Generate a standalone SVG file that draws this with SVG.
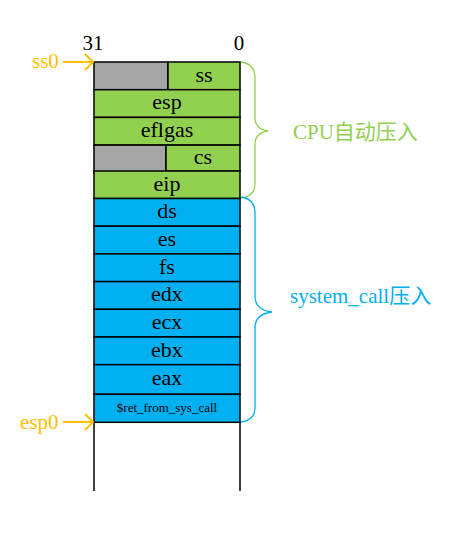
<svg xmlns="http://www.w3.org/2000/svg" width="452" height="536" viewBox="0 0 452 536">
<style>
.t{font-family:"Liberation Serif","Noto Sans CJK SC",serif;font-size:22px;fill:#000;text-anchor:middle}
.g{fill:#92D050;stroke:#000;stroke-width:1.5}
.b{fill:#00B0F0;stroke:#000;stroke-width:1.5}
.gr{fill:#A6A6A6;stroke:#000;stroke-width:1.5}
.ptr{fill:none;stroke:#FFC000;stroke-width:2}
.lbl{font-family:"Liberation Serif","Noto Sans CJK SC",serif;font-size:21px}
</style>
<rect width="452" height="536" fill="#fff"/>
<g id="axis">
<text class="t" x="93" y="50" style="font-size:21px">31</text>
<text class="t" x="239" y="50" style="font-size:21px">0</text>
<line x1="94" y1="422" x2="94" y2="491" stroke="#000" stroke-width="1.5"/>
<line x1="240" y1="422" x2="240" y2="491" stroke="#000" stroke-width="1.5"/>
</g>
<g id="row-ss"><rect class="gr" x="94" y="62" width="74" height="27.7"/><rect class="g" x="168" y="62" width="72" height="27.7"/><text class="t" x="204" y="82">ss</text></g>
<g id="row-esp"><rect class="g" x="94" y="89.7" width="146" height="27.7"/><text class="t" x="167" y="109">esp</text></g>
<g id="row-eflgas"><rect class="g" x="94" y="117.4" width="146" height="27.7"/><text class="t" x="167" y="137">eflgas</text></g>
<g id="row-cs"><rect class="gr" x="94" y="145.1" width="72" height="27.7"/><rect class="g" x="166" y="145.1" width="74" height="26"/><text class="t" x="203" y="164">cs</text></g>
<g id="row-eip"><rect class="g" x="94" y="171" width="146" height="27.5"/><text class="t" x="167" y="191">eip</text></g>
<g id="row-ds"><rect class="b" x="94" y="198.5" width="146" height="27.7"/><text class="t" x="167" y="218">ds</text></g>
<g id="row-es"><rect class="b" x="94" y="226.2" width="146" height="27.7"/><text class="t" x="167" y="246">es</text></g>
<g id="row-fs"><rect class="b" x="94" y="253.9" width="146" height="27.7"/><text class="t" x="167" y="274">fs</text></g>
<g id="row-edx"><rect class="b" x="94" y="281.6" width="146" height="27.7"/><text class="t" x="167" y="301">edx</text></g>
<g id="row-ecx"><rect class="b" x="94" y="309.3" width="146" height="27.7"/><text class="t" x="167" y="329">ecx</text></g>
<g id="row-ebx"><rect class="b" x="94" y="337" width="146" height="27.7"/><text class="t" x="167" y="357">ebx</text></g>
<g id="row-eax"><rect class="b" x="94" y="364.7" width="146" height="29.6"/><text class="t" x="167" y="385">eax</text></g>
<g id="row-ret"><rect class="b" x="94" y="394.3" width="146" height="28"/><text class="t" x="167" y="412" style="font-size:13px">$ret_from_sys_call</text></g>
<g id="connectors">
<path class="ptr" d="M63 62H93M85 54L93 62L85 70"/>
<path class="ptr" d="M63 422H93M85 414L93 422L85 430"/>
<path d="M241 62Q255 64 255 78V118Q255 129 268 131Q255 133 255 144V184Q255 196 241 198" fill="none" stroke="#92D050" stroke-width="1.3"/>
<path d="M241 197Q255 199 255 213V296Q255 310 272 312Q255 314 255 328V408Q255 420 241 422" fill="none" stroke="#00B0F0" stroke-width="1.3"/>
</g>
<g id="labels">
<text class="lbl" x="32" y="68" fill="#FFC000">ss0</text>
<text class="lbl" x="20" y="429" fill="#FFC000">esp0</text>
<text class="lbl" x="293" y="139" fill="#92D050">CPU自动压入</text>
<text class="lbl" x="290" y="303" fill="#00B0F0">system_call压入</text>
</g>
</svg>
